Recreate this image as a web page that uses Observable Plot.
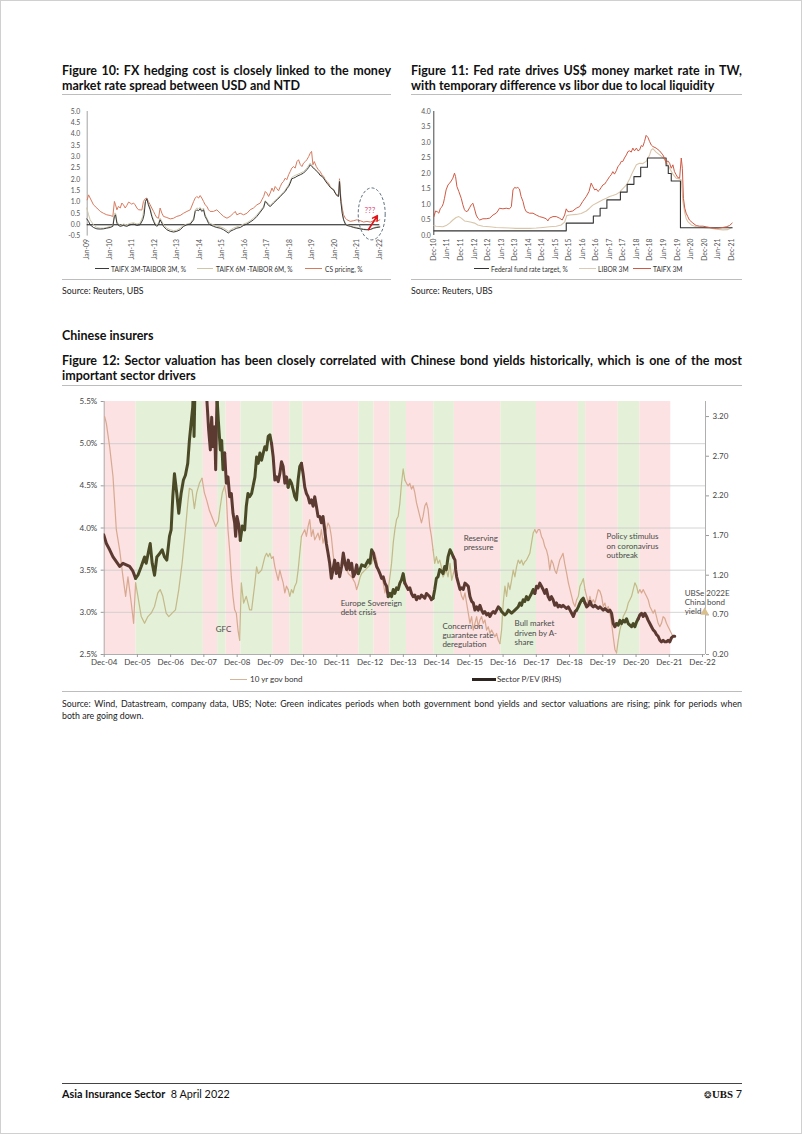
<!DOCTYPE html>
<html><head><meta charset="utf-8">
<script src="https://cdn.jsdelivr.net/npm/d3@7"></script>
<script src="https://cdn.jsdelivr.net/npm/@observablehq/plot@0.6"></script>
<style>
body{margin:0;background:#fff;}
#page{position:relative;width:800px;height:1132px;border:1px solid #d0d0d0;overflow:hidden;font-family:Lato,"Open Sans",sans-serif;color:#111;}
.a{position:absolute;}
.ttl{font-weight:700;font-size:12.5px;line-height:15px;white-space:nowrap;}
.src{font-size:8.8px;line-height:12px;color:#222;white-space:nowrap;}
.rule{position:absolute;height:0;border-top:1px solid #bdbdbd;}
.lg{position:absolute;font-size:6.6px;color:#333;white-space:nowrap;line-height:8px;}
.sw{position:absolute;height:0;}
.lg12{position:absolute;font-size:8px;color:#333;white-space:nowrap;line-height:10px;}
</style></head>
<body><div id="page">
<div class="a ttl fit j" data-g="t10" style="left:61px;top:62px;width:329px">Figure 10: FX hedging cost is closely linked to the money</div>
<div class="a ttl fit" data-g="t10" style="left:61px;top:77px;width:329px">market rate spread between USD and NTD</div>
<div class="rule" style="left:61px;top:93px;width:329px"></div>
<div class="a ttl fit j" data-g="t11" style="left:410px;top:62px;width:331px">Figure 11: Fed rate drives US$ money market rate in TW,</div>
<div class="a ttl fit" data-g="t11" style="left:410px;top:77px;width:331px">with temporary difference vs libor due to local liquidity</div>
<div class="rule" style="left:410px;top:93px;width:331px"></div>

<div id="c10" class="a" style="left:55px;top:100px"></div>
<div id="c11" class="a" style="left:405px;top:100px"></div>

<div class="sw" style="left:94px;top:267px;width:14px;border-top:1.2px solid #3a3a3a"></div>
<div class="lg" style="left:110px;top:264px">TAIFX 3M-TAIBOR 3M, %</div>
<div class="sw" style="left:196px;top:267px;width:16px;border-top:1.2px solid #cdc6a8"></div>
<div class="lg" style="left:215px;top:264px">TAIFX 6M -TAIBOR 6M, %</div>
<div class="sw" style="left:304px;top:267px;width:17px;border-top:1.2px solid #d77b5f"></div>
<div class="lg" style="left:324px;top:264px">CS pricing, %</div>

<div class="sw" style="left:473px;top:267px;width:15px;border-top:1.2px solid #333"></div>
<div class="lg" style="left:490px;top:264px">Federal fund rate target, %</div>
<div class="sw" style="left:578px;top:267px;width:17px;border-top:1.2px solid #dccbb4"></div>
<div class="lg" style="left:597px;top:264px">LIBOR 3M</div>
<div class="sw" style="left:632px;top:267px;width:18px;border-top:1.2px solid #cf5a45"></div>
<div class="lg" style="left:652px;top:264px">TAIFX 3M</div>

<div class="rule" style="left:61px;top:278px;width:329px"></div>
<div class="rule" style="left:410px;top:278px;width:331px"></div>
<div class="a src" style="left:61px;top:284px">Source: Reuters, UBS</div>
<div class="a src" style="left:410px;top:284px">Source: Reuters, UBS</div>

<div class="a ttl" style="left:61px;top:327px">Chinese insurers</div>
<div class="a ttl fit j" data-g="t12" style="left:61px;top:352px;width:680px">Figure 12: Sector valuation has been closely correlated with Chinese bond yields historically, which is one of the most</div>
<div class="a ttl fit" data-g="t12" style="left:61px;top:367px;width:680px">important sector drivers</div>
<div class="rule" style="left:61px;top:384px;width:680px"></div>

<div id="c12" class="a" style="left:55px;top:392px"></div>

<div class="sw" style="left:229px;top:678px;width:17px;border-top:1.3px solid #d6b49a"></div>
<div class="lg12" style="left:249px;top:673px">10 yr gov bond</div>
<div class="sw" style="left:471px;top:677px;width:24px;border-top:3px solid #2e2420"></div>
<div class="lg12" style="left:496px;top:673px">Sector P/EV (RHS)</div>
<div class="rule" style="left:61px;top:690px;width:680px"></div>
<div class="a src fit j" data-g="s12" style="left:61px;top:697px;width:680px">Source: Wind, Datastream, company data, UBS; Note: Green indicates periods when both government bond yields and sector valuations are rising; pink for periods when</div>
<div class="a src fit" data-g="s12" style="left:61px;top:709px;width:680px">both are going down.</div>

<div class="rule" style="left:61px;top:1082px;width:680px;border-top:1px solid #444"></div>
<div class="a" style="left:61px;top:1086px;font-size:10.8px;line-height:14px;white-space:nowrap"><b>Asia Insurance Sector</b>&nbsp; 8 April 2022</div>
<div class="a" style="left:700px;top:1086px;width:41px;text-align:right;font-size:10.8px;line-height:14px;white-space:nowrap"><span style="font-size:9px">&#10050;</span><span style="font-family:'Liberation Serif',serif;font-weight:700">UBS</span>&nbsp;7</div>
</div>
<script>
// ---------------- DATA ----------------
// Figure 10 (decimal year, %)
const fig10Spread3M = [[2008.98,0.26],[2009.06,0.15],[2009.13,0.0],[2009.28,-0.12],[2009.43,-0.18],[2009.58,-0.19],[2009.72,-0.18],[2009.87,-0.15],[2010.02,-0.12],[2010.14,-0.07],[2010.21,0.37],[2010.26,0.44],[2010.32,0.07],[2010.39,-0.03],[2010.47,-0.07],[2010.61,-0.03],[2010.76,-0.07],[2010.91,0.0],[2011.06,0.03],[2011.21,-0.03],[2011.35,0.0],[2011.47,0.22],[2011.53,0.44],[2011.59,1.03],[2011.65,1.15],[2011.72,0.88],[2011.80,0.66],[2011.87,0.37],[2011.95,0.15],[2012.02,0.0],[2012.09,-0.07],[2012.17,0.0],[2012.24,0.22],[2012.32,0.07],[2012.39,-0.07],[2012.54,-0.22],[2012.69,-0.29],[2012.84,-0.32],[2012.98,-0.29],[2013.13,-0.22],[2013.28,-0.07],[2013.43,0.0],[2013.58,0.03],[2013.73,0.22],[2013.80,0.59],[2013.87,0.66],[2013.95,0.62],[2014.02,0.71],[2014.09,0.59],[2014.17,0.66],[2014.24,0.37],[2014.32,0.22],[2014.39,0.07],[2014.46,0.0],[2014.61,-0.07],[2014.76,-0.12],[2014.91,-0.15],[2015.06,-0.22],[2015.21,-0.32],[2015.28,-0.37],[2015.35,-0.29],[2015.50,-0.22],[2015.65,-0.15],[2015.80,-0.12],[2015.95,-0.03],[2016.10,0.03],[2016.24,0.12],[2016.39,0.22],[2016.54,0.37],[2016.69,0.56],[2016.84,0.76],[2016.91,1.03],[2016.98,0.96],[2017.06,0.85],[2017.13,0.81],[2017.21,0.88],[2017.28,0.96],[2017.43,1.10],[2017.58,1.25],[2017.72,1.40],[2017.80,1.47],[2017.87,1.59],[2017.95,1.69],[2018.02,1.84],[2018.09,2.03],[2018.17,2.06],[2018.24,2.09],[2018.32,2.14],[2018.47,2.21],[2018.61,2.28],[2018.76,2.43],[2018.84,2.53],[2018.91,2.65],[2018.98,2.57],[2019.06,2.50],[2019.13,2.43],[2019.21,2.35],[2019.28,2.28],[2019.35,2.18],[2019.43,2.14],[2019.50,2.06],[2019.58,1.94],[2019.65,1.84],[2019.72,1.76],[2019.80,1.65],[2019.87,1.59],[2019.95,1.54],[2020.02,1.40],[2020.09,1.29],[2020.17,1.25],[2020.21,1.91],[2020.27,1.03],[2020.33,0.51],[2020.39,0.22],[2020.47,0.03],[2020.54,-0.03],[2020.69,-0.07],[2020.84,-0.12],[2020.98,-0.15],[2021.13,-0.18],[2021.28,-0.21],[2021.43,-0.22],[2021.58,-0.21],[2021.73,-0.15],[2021.87,-0.12],[2022.00,-0.10]];
const fig10Spread6M = [[2008.98,0.74],[2009.06,0.44],[2009.13,0.22],[2009.28,0.0],[2009.43,-0.12],[2009.58,-0.15],[2009.72,-0.15],[2009.87,-0.12],[2010.02,-0.07],[2010.14,-0.03],[2010.21,0.51],[2010.26,0.51],[2010.32,0.15],[2010.39,0.03],[2010.47,-0.03],[2010.61,0.03],[2010.76,0.0],[2010.91,0.06],[2011.06,0.09],[2011.21,0.03],[2011.35,0.07],[2011.47,0.37],[2011.53,0.74],[2011.59,1.06],[2011.65,1.10],[2011.72,0.96],[2011.80,0.74],[2011.87,0.44],[2011.95,0.22],[2012.02,0.07],[2012.09,0.0],[2012.17,0.07],[2012.24,0.29],[2012.32,0.15],[2012.39,0.0],[2012.54,-0.15],[2012.69,-0.22],[2012.84,-0.26],[2012.98,-0.24],[2013.13,-0.15],[2013.28,-0.03],[2013.43,0.03],[2013.58,0.07],[2013.73,0.29],[2013.80,0.66],[2013.87,0.74],[2013.95,0.71],[2014.02,0.76],[2014.09,0.66],[2014.17,0.74],[2014.24,0.44],[2014.32,0.29],[2014.39,0.15],[2014.46,0.06],[2014.61,0.0],[2014.76,-0.06],[2014.91,-0.09],[2015.06,-0.15],[2015.21,-0.24],[2015.28,-0.29],[2015.35,-0.24],[2015.50,-0.15],[2015.65,-0.09],[2015.80,-0.04],[2015.95,0.03],[2016.10,0.09],[2016.24,0.18],[2016.39,0.29],[2016.54,0.44],[2016.69,0.62],[2016.84,0.82],[2016.91,1.06],[2016.98,1.00],[2017.06,0.91],[2017.13,0.85],[2017.21,0.94],[2017.28,1.00],[2017.43,1.15],[2017.58,1.29],[2017.72,1.44],[2017.80,1.53],[2017.87,1.65],[2017.95,1.76],[2018.02,1.91],[2018.09,2.09],[2018.17,2.14],[2018.24,2.18],[2018.32,2.21],[2018.47,2.28],[2018.61,2.35],[2018.76,2.50],[2018.84,2.62],[2018.91,2.72],[2018.98,2.62],[2019.06,2.53],[2019.13,2.46],[2019.21,2.38],[2019.28,2.31],[2019.35,2.21],[2019.43,2.16],[2019.50,2.09],[2019.58,1.97],[2019.65,1.87],[2019.72,1.79],[2019.80,1.68],[2019.87,1.62],[2019.95,1.57],[2020.02,1.43],[2020.09,1.32],[2020.17,1.28],[2020.21,1.97],[2020.27,1.09],[2020.33,0.59],[2020.39,0.26],[2020.47,0.07],[2020.54,0.0],[2020.69,-0.04],[2020.84,-0.09],[2020.98,-0.12],[2021.13,-0.15],[2021.28,-0.18],[2021.43,-0.21],[2021.58,-0.19],[2021.73,-0.13],[2021.87,-0.09],[2022.00,-0.06]];
const fig10CSPricing = [[2009.00,1.10],[2009.06,1.32],[2009.13,1.18],[2009.28,0.88],[2009.43,0.74],[2009.58,0.59],[2009.72,0.51],[2009.87,0.44],[2010.02,0.41],[2010.14,0.37],[2010.21,1.03],[2010.26,0.88],[2010.32,0.66],[2010.39,0.81],[2010.47,0.74],[2010.54,0.96],[2010.61,0.88],[2010.69,0.74],[2010.76,0.85],[2010.84,1.00],[2010.91,0.96],[2010.98,0.91],[2011.06,0.96],[2011.13,0.88],[2011.21,0.74],[2011.28,0.66],[2011.35,0.66],[2011.43,0.65],[2011.50,1.03],[2011.58,1.15],[2011.65,1.18],[2011.72,1.03],[2011.80,0.88],[2011.87,0.74],[2011.95,0.59],[2012.02,0.44],[2012.09,0.32],[2012.17,0.29],[2012.24,0.74],[2012.32,0.51],[2012.39,0.37],[2012.54,0.32],[2012.69,0.26],[2012.84,0.29],[2012.98,0.37],[2013.13,0.41],[2013.28,0.51],[2013.43,0.59],[2013.58,0.66],[2013.73,1.03],[2013.80,1.18],[2013.87,1.25],[2013.95,1.18],[2014.02,1.29],[2014.09,1.18],[2014.17,1.03],[2014.24,0.88],[2014.32,0.81],[2014.39,0.66],[2014.46,0.59],[2014.61,0.59],[2014.76,0.66],[2014.91,0.51],[2015.06,0.37],[2015.21,0.29],[2015.35,0.37],[2015.50,0.51],[2015.58,0.59],[2015.65,0.44],[2015.80,0.51],[2015.95,0.44],[2016.10,0.51],[2016.24,0.66],[2016.39,0.74],[2016.54,0.88],[2016.69,0.96],[2016.76,1.10],[2016.84,1.25],[2016.91,1.47],[2016.98,1.40],[2017.06,1.25],[2017.13,1.40],[2017.21,1.62],[2017.28,1.47],[2017.35,1.69],[2017.43,1.59],[2017.50,1.50],[2017.58,1.69],[2017.65,1.84],[2017.72,1.91],[2017.80,2.06],[2017.87,1.99],[2017.95,2.21],[2018.02,2.35],[2018.09,2.50],[2018.17,2.57],[2018.24,2.50],[2018.32,2.79],[2018.39,2.87],[2018.47,2.65],[2018.54,2.57],[2018.61,2.72],[2018.69,2.79],[2018.76,2.87],[2018.84,3.01],[2018.91,3.16],[2018.97,3.24],[2019.03,2.65],[2019.09,2.79],[2019.18,2.57],[2019.27,2.43],[2019.35,2.35],[2019.43,2.21],[2019.50,2.14],[2019.58,1.99],[2019.65,1.91],[2019.72,1.84],[2019.80,1.69],[2019.87,1.62],[2019.95,1.54],[2020.02,1.40],[2020.09,1.32],[2020.17,1.32],[2020.21,2.03],[2020.27,1.18],[2020.33,0.74],[2020.39,0.44],[2020.47,0.29],[2020.54,0.22],[2020.69,0.15],[2020.84,0.18],[2020.98,0.22],[2021.13,0.18],[2021.28,0.12],[2021.43,0.15],[2021.58,0.12],[2021.73,0.18],[2021.87,0.15],[2022.00,0.22]];
const fig10YTicks = [-0.5,0,0.5,1,1.5,2,2.5,3,3.5,4,4.5,5];
const fig10XLabels = ["Jan-09","Jan-10","Jan-11","Jan-12","Jan-13","Jan-14","Jan-15","Jan-16","Jan-17","Jan-18","Jan-19","Jan-20","Jan-21","Jan-22"];
const fig10Ring = [[2021.64,0.48]];
const fig10Note = [[2021.56,0.62,"???"]];
const fig10Arrow = [[2021.49,-0.22,2021.89,0.40]];

// Figure 11
const fig11Fed = [[2010.92,0.15],[2015.81,0.40],[2016.81,0.63],[2017.06,0.88],[2017.31,1.15],[2017.81,1.40],[2018.06,1.65],[2018.31,1.90],[2018.56,2.20],[2018.81,2.50],[2019.50,2.25],[2019.58,2.00],[2019.69,1.76],[2020.03,0.25],[2021.94,0.25]];
const fig11Libor = [[2010.92,0.32],[2011.00,0.30],[2011.13,0.29],[2011.25,0.28],[2011.37,0.32],[2011.50,0.40],[2011.62,0.50],[2011.74,0.58],[2011.84,0.61],[2011.93,0.56],[2012.05,0.47],[2012.17,0.45],[2012.30,0.43],[2012.42,0.40],[2012.54,0.34],[2012.73,0.30],[2012.98,0.28],[2013.22,0.26],[2013.47,0.25],[2013.71,0.24],[2013.96,0.23],[2014.21,0.23],[2014.45,0.23],[2014.70,0.24],[2014.95,0.26],[2015.19,0.28],[2015.44,0.30],[2015.62,0.34],[2015.75,0.43],[2015.83,0.64],[2015.93,0.66],[2016.18,0.68],[2016.36,0.71],[2016.55,0.79],[2016.67,0.88],[2016.79,0.98],[2016.92,1.04],[2017.04,1.10],[2017.16,1.15],[2017.29,1.20],[2017.41,1.26],[2017.53,1.29],[2017.66,1.33],[2017.78,1.40],[2017.90,1.51],[2018.03,1.63],[2018.15,1.82],[2018.27,2.06],[2018.40,2.28],[2018.52,2.33],[2018.64,2.32],[2018.76,2.39],[2018.89,2.60],[2018.95,2.76],[2019.01,2.80],[2019.13,2.69],[2019.26,2.60],[2019.38,2.52],[2019.50,2.39],[2019.63,2.17],[2019.75,1.98],[2019.87,1.85],[2020.00,1.82],[2020.06,1.79],[2020.12,1.10],[2020.18,0.77],[2020.24,0.55],[2020.30,0.45],[2020.43,0.34],[2020.61,0.28],[2020.86,0.26],[2021.10,0.24],[2021.35,0.20],[2021.60,0.18],[2021.78,0.19],[2021.92,0.26]];
const fig11Taifx = [[2010.92,0.61],[2010.98,0.79],[2011.04,0.77],[2011.10,0.72],[2011.16,0.88],[2011.22,0.93],[2011.27,1.04],[2011.31,1.20],[2011.37,1.47],[2011.44,1.63],[2011.50,1.69],[2011.56,1.76],[2011.62,1.85],[2011.68,2.01],[2011.72,1.90],[2011.77,1.58],[2011.84,1.42],[2011.93,1.20],[2011.99,0.99],[2012.05,0.83],[2012.11,0.77],[2012.17,0.79],[2012.24,0.90],[2012.30,0.99],[2012.36,1.04],[2012.42,0.86],[2012.48,0.66],[2012.54,0.56],[2012.61,0.50],[2012.73,0.54],[2012.85,0.54],[2012.98,0.56],[2013.10,0.66],[2013.22,0.72],[2013.28,0.79],[2013.34,0.88],[2013.47,0.86],[2013.59,0.88],[2013.71,0.86],[2013.78,0.93],[2013.84,1.47],[2013.90,1.55],[2013.96,1.53],[2014.02,1.55],[2014.08,1.50],[2014.14,1.26],[2014.21,1.10],[2014.27,0.88],[2014.33,0.77],[2014.45,0.72],[2014.58,0.72],[2014.70,0.66],[2014.82,0.61],[2014.95,0.58],[2015.07,0.54],[2015.13,0.47],[2015.19,0.56],[2015.32,0.61],[2015.44,0.61],[2015.56,0.56],[2015.66,0.50],[2015.75,0.66],[2015.81,0.86],[2015.87,0.77],[2015.93,0.77],[2016.05,0.79],[2016.18,0.88],[2016.30,0.93],[2016.42,1.10],[2016.55,1.26],[2016.65,1.42],[2016.73,1.69],[2016.79,1.58],[2016.86,1.47],[2016.92,1.50],[2016.98,1.42],[2017.04,1.47],[2017.10,1.55],[2017.16,1.63],[2017.23,1.66],[2017.29,1.74],[2017.35,1.82],[2017.41,1.90],[2017.47,1.96],[2017.53,2.06],[2017.59,1.98],[2017.66,2.09],[2017.72,2.23],[2017.78,2.28],[2017.84,2.39],[2017.90,2.39],[2017.96,2.50],[2018.03,2.60],[2018.09,2.71],[2018.15,2.73],[2018.21,2.69],[2018.27,2.82],[2018.33,2.73],[2018.40,2.82],[2018.46,2.73],[2018.52,2.76],[2018.58,2.90],[2018.64,2.87],[2018.70,3.03],[2018.76,3.23],[2018.83,3.16],[2018.89,3.03],[2018.95,2.92],[2019.01,2.87],[2019.13,2.82],[2019.26,2.73],[2019.38,2.60],[2019.44,2.50],[2019.50,2.33],[2019.56,2.41],[2019.63,2.33],[2019.69,2.17],[2019.75,2.28],[2019.81,2.06],[2019.87,1.96],[2019.93,1.87],[2020.00,1.85],[2020.06,2.50],[2020.10,2.17],[2020.14,1.20],[2020.19,0.88],[2020.24,0.72],[2020.30,0.61],[2020.36,0.50],[2020.49,0.40],[2020.61,0.32],[2020.74,0.30],[2020.86,0.30],[2020.98,0.28],[2021.10,0.26],[2021.23,0.24],[2021.35,0.23],[2021.47,0.24],[2021.60,0.26],[2021.72,0.28],[2021.84,0.32],[2021.94,0.40]];
const fig11YTicks = [0,0.5,1,1.5,2,2.5,3,3.5,4];
const fig11XLabels = ["Dec-10","Jun-11","Dec-11","Jun-12","Dec-12","Jun-13","Dec-13","Jun-14","Dec-14","Jun-15","Dec-15","Jun-16","Dec-16","Jun-17","Dec-17","Jun-18","Dec-18","Jun-19","Dec-19","Jun-20","Dec-20","Jun-21","Dec-21"];

// Figure 12 (10yr bond in %, sector P/EV in x)
const fig12Bond = [[2004.93,5.32],[2004.98,5.24],[2005.08,4.96],[2005.18,4.61],[2005.28,3.98],[2005.38,3.74],[2005.48,3.42],[2005.56,3.19],[2005.63,3.42],[2005.73,3.11],[2005.80,2.87],[2005.86,3.35],[2005.93,3.19],[2006.03,2.95],[2006.13,2.87],[2006.23,2.95],[2006.33,2.99],[2006.43,3.07],[2006.53,3.23],[2006.60,3.27],[2006.68,3.19],[2006.78,2.99],[2006.86,2.95],[2006.96,2.99],[2007.06,3.03],[2007.16,3.27],[2007.26,3.58],[2007.36,3.98],[2007.43,4.29],[2007.48,4.47],[2007.56,4.45],[2007.63,4.23],[2007.70,4.42],[2007.78,4.53],[2007.86,4.59],[2007.93,4.42],[2008.00,4.33],[2008.08,4.21],[2008.19,4.10],[2008.27,4.02],[2008.35,4.08],[2008.41,4.26],[2008.47,4.42],[2008.54,4.50],[2008.59,4.38],[2008.64,3.98],[2008.69,3.74],[2008.74,3.42],[2008.79,3.19],[2008.84,3.03],[2008.89,2.99],[2008.94,2.79],[2008.99,2.67],[2009.04,3.35],[2009.11,3.11],[2009.19,3.19],[2009.29,3.03],[2009.35,3.03],[2009.40,3.19],[2009.45,3.35],[2009.50,3.54],[2009.55,3.46],[2009.65,3.50],[2009.75,3.66],[2009.80,3.70],[2009.85,3.66],[2009.90,3.70],[2009.95,3.64],[2010.00,3.66],[2010.05,3.54],[2010.10,3.46],[2010.15,3.38],[2010.20,3.50],[2010.25,3.42],[2010.30,3.35],[2010.35,3.23],[2010.40,3.31],[2010.45,3.27],[2010.50,3.19],[2010.55,3.27],[2010.60,3.23],[2010.65,3.31],[2010.70,3.35],[2010.75,3.50],[2010.80,3.70],[2010.85,3.90],[2010.90,3.94],[2010.95,3.98],[2011.00,3.90],[2011.05,4.02],[2011.10,4.10],[2011.15,3.90],[2011.20,3.98],[2011.25,3.86],[2011.30,3.90],[2011.35,3.94],[2011.40,3.86],[2011.45,3.98],[2011.50,3.82],[2011.55,3.90],[2011.60,3.98],[2011.65,4.06],[2011.70,4.02],[2011.75,3.90],[2011.80,3.70],[2011.85,3.54],[2011.90,3.58],[2011.95,3.50],[2012.06,3.54],[2012.16,3.58],[2012.26,3.46],[2012.36,3.42],[2012.46,3.35],[2012.51,3.27],[2012.56,3.33],[2012.61,3.41],[2012.66,3.46],[2012.76,3.50],[2012.86,3.54],[2012.96,3.58],[2013.01,3.66],[2013.06,3.70],[2013.11,3.62],[2013.16,3.50],[2013.21,3.46],[2013.26,3.42],[2013.31,3.35],[2013.36,3.23],[2013.41,3.31],[2013.46,3.27],[2013.51,3.42],[2013.56,3.58],[2013.61,3.82],[2013.66,3.98],[2013.71,4.10],[2013.76,4.14],[2013.81,4.29],[2013.86,4.53],[2013.91,4.70],[2013.96,4.57],[2014.01,4.53],[2014.06,4.50],[2014.11,4.53],[2014.16,4.46],[2014.21,4.50],[2014.26,4.42],[2014.31,4.30],[2014.36,4.22],[2014.41,4.14],[2014.46,4.06],[2014.51,4.14],[2014.56,4.26],[2014.61,4.30],[2014.66,4.22],[2014.71,4.02],[2014.76,3.90],[2014.81,3.74],[2014.86,3.58],[2014.91,3.66],[2014.96,3.58],[2015.01,3.62],[2015.06,3.54],[2015.11,3.42],[2015.16,3.46],[2015.21,3.50],[2015.26,3.42],[2015.32,3.58],[2015.37,3.38],[2015.42,3.46],[2015.47,3.54],[2015.52,3.46],[2015.57,3.35],[2015.62,3.27],[2015.67,3.19],[2015.72,3.15],[2015.77,3.23],[2015.82,3.11],[2015.87,2.99],[2015.92,2.87],[2015.97,2.95],[2016.02,2.79],[2016.07,2.87],[2016.12,2.95],[2016.17,2.83],[2016.22,2.91],[2016.27,2.95],[2016.32,2.87],[2016.37,2.91],[2016.42,2.79],[2016.47,2.83],[2016.52,2.75],[2016.57,2.79],[2016.67,2.71],[2016.72,2.75],[2016.77,2.67],[2016.82,2.63],[2016.87,2.79],[2016.92,3.11],[2016.97,3.31],[2017.02,3.19],[2017.07,3.35],[2017.12,3.27],[2017.17,3.38],[2017.22,3.50],[2017.27,3.42],[2017.32,3.54],[2017.37,3.62],[2017.42,3.58],[2017.47,3.62],[2017.52,3.56],[2017.57,3.60],[2017.62,3.62],[2017.67,3.66],[2017.72,3.70],[2017.77,3.82],[2017.82,3.94],[2017.87,3.98],[2017.92,3.94],[2017.97,3.98],[2018.02,3.98],[2018.07,3.90],[2018.12,3.86],[2018.17,3.78],[2018.22,3.74],[2018.27,3.66],[2018.32,3.50],[2018.37,3.62],[2018.42,3.58],[2018.47,3.50],[2018.52,3.46],[2018.57,3.54],[2018.62,3.62],[2018.67,3.66],[2018.72,3.70],[2018.77,3.58],[2018.83,3.46],[2018.88,3.35],[2018.93,3.27],[2018.98,3.19],[2019.03,3.11],[2019.08,3.07],[2019.13,3.15],[2019.18,3.19],[2019.23,3.31],[2019.28,3.35],[2019.33,3.40],[2019.38,3.27],[2019.43,3.19],[2019.48,3.11],[2019.53,3.19],[2019.58,3.11],[2019.63,3.15],[2019.68,3.11],[2019.73,3.19],[2019.78,3.27],[2019.83,3.25],[2019.88,3.19],[2019.93,3.07],[2019.98,3.11],[2020.03,3.03],[2020.08,3.07],[2020.13,2.99],[2020.18,2.87],[2020.23,2.71],[2020.28,2.56],[2020.33,2.52],[2020.38,2.67],[2020.43,2.79],[2020.48,2.87],[2020.53,2.95],[2020.58,2.99],[2020.63,3.03],[2020.68,3.11],[2020.73,3.15],[2020.78,3.19],[2020.83,3.27],[2020.88,3.35],[2020.93,3.31],[2020.98,3.23],[2021.03,3.27],[2021.08,3.23],[2021.13,3.27],[2021.18,3.23],[2021.23,3.19],[2021.28,3.15],[2021.33,3.07],[2021.38,3.03],[2021.43,2.99],[2021.48,3.03],[2021.53,2.95],[2021.58,2.87],[2021.63,2.83],[2021.68,2.87],[2021.73,2.95],[2021.78,2.93],[2021.83,2.87],[2021.88,2.83],[2021.93,2.79],[2021.98,2.75],[2022.03,2.71]];
const fig12PEV = [[2004.90,1.71],[2004.98,1.60],[2005.08,1.52],[2005.18,1.43],[2005.28,1.37],[2005.38,1.31],[2005.48,1.35],[2005.58,1.33],[2005.68,1.31],[2005.78,1.25],[2005.86,1.16],[2005.93,1.20],[2006.03,1.31],[2006.13,1.43],[2006.18,1.35],[2006.26,1.52],[2006.30,1.60],[2006.36,1.35],[2006.43,1.20],[2006.50,1.43],[2006.58,1.47],[2006.66,1.52],[2006.73,1.43],[2006.80,1.39],[2006.88,1.69],[2006.93,1.77],[2006.98,2.19],[2007.03,2.48],[2007.10,2.23],[2007.16,1.98],[2007.23,2.23],[2007.30,2.40],[2007.36,2.46],[2007.43,2.61],[2007.48,2.90],[2007.53,3.11],[2007.58,3.32],[2007.60,3.55],[2007.62,2.95],[2007.65,3.60],[2007.72,3.90],[2007.80,4.20],[2007.88,3.95],[2007.95,3.70],[2008.00,3.45],[2008.06,3.03],[2008.11,2.78],[2008.15,3.19],[2008.19,2.82],[2008.24,3.07],[2008.27,2.53],[2008.31,3.45],[2008.35,3.15],[2008.41,2.78],[2008.45,2.90],[2008.49,2.53],[2008.54,2.74],[2008.59,2.36],[2008.64,2.44],[2008.69,2.19],[2008.74,2.23],[2008.79,1.98],[2008.84,1.86],[2008.87,1.69],[2008.91,1.94],[2008.97,1.82],[2009.01,1.64],[2009.07,1.82],[2009.14,1.77],[2009.19,2.07],[2009.24,2.23],[2009.29,2.19],[2009.35,2.23],[2009.45,2.44],[2009.50,2.69],[2009.55,2.61],[2009.60,2.74],[2009.65,2.65],[2009.70,2.74],[2009.75,2.82],[2009.80,2.78],[2009.85,2.95],[2009.90,2.97],[2009.95,2.86],[2010.00,2.69],[2010.05,2.40],[2010.10,2.44],[2010.15,2.38],[2010.20,2.48],[2010.25,2.63],[2010.30,2.57],[2010.35,2.36],[2010.40,2.44],[2010.45,2.31],[2010.50,2.40],[2010.55,2.36],[2010.60,2.28],[2010.65,2.19],[2010.70,2.15],[2010.75,2.40],[2010.80,2.57],[2010.85,2.61],[2010.90,2.48],[2010.95,2.31],[2011.00,2.23],[2011.05,2.19],[2011.10,2.11],[2011.15,2.15],[2011.20,2.07],[2011.25,2.19],[2011.30,2.07],[2011.35,1.94],[2011.40,1.94],[2011.45,1.86],[2011.50,1.94],[2011.55,1.77],[2011.60,1.60],[2011.65,1.48],[2011.70,1.35],[2011.75,1.16],[2011.80,1.27],[2011.85,1.39],[2011.90,1.22],[2011.95,1.35],[2012.00,1.18],[2012.06,1.31],[2012.11,1.48],[2012.16,1.35],[2012.21,1.27],[2012.26,1.39],[2012.31,1.27],[2012.36,1.35],[2012.41,1.18],[2012.46,1.22],[2012.51,1.33],[2012.56,1.22],[2012.61,1.27],[2012.66,1.33],[2012.76,1.31],[2012.81,1.35],[2012.86,1.39],[2012.91,1.35],[2012.96,1.52],[2013.01,1.48],[2013.06,1.39],[2013.11,1.31],[2013.16,1.27],[2013.21,1.22],[2013.26,1.16],[2013.31,1.18],[2013.36,1.10],[2013.41,1.06],[2013.46,0.93],[2013.51,0.97],[2013.56,0.93],[2013.61,1.02],[2013.66,0.97],[2013.71,1.04],[2013.76,1.02],[2013.81,1.10],[2013.86,1.14],[2013.91,1.22],[2013.96,1.10],[2014.01,1.06],[2014.06,1.02],[2014.11,1.04],[2014.16,0.97],[2014.21,0.93],[2014.26,0.95],[2014.31,0.89],[2014.36,0.93],[2014.41,0.91],[2014.46,0.95],[2014.51,0.93],[2014.56,0.91],[2014.61,0.97],[2014.66,0.95],[2014.71,0.93],[2014.76,0.89],[2014.81,0.91],[2014.86,1.02],[2014.91,1.16],[2014.96,1.18],[2015.01,1.27],[2015.06,1.25],[2015.11,1.22],[2015.16,1.31],[2015.21,1.27],[2015.26,1.43],[2015.32,1.52],[2015.37,1.48],[2015.42,1.43],[2015.47,1.39],[2015.49,1.27],[2015.52,1.18],[2015.57,1.10],[2015.62,1.02],[2015.67,1.04],[2015.72,1.02],[2015.77,1.10],[2015.82,1.08],[2015.87,1.06],[2015.92,0.93],[2015.97,0.87],[2016.02,0.85],[2016.07,0.76],[2016.12,0.80],[2016.17,0.76],[2016.22,0.82],[2016.27,0.76],[2016.32,0.72],[2016.37,0.74],[2016.42,0.70],[2016.47,0.72],[2016.52,0.68],[2016.57,0.72],[2016.62,0.74],[2016.67,0.72],[2016.72,0.76],[2016.77,0.80],[2016.82,0.78],[2016.87,0.74],[2016.92,0.72],[2016.97,0.70],[2017.02,0.72],[2017.07,0.76],[2017.12,0.74],[2017.17,0.72],[2017.27,0.76],[2017.37,0.80],[2017.42,0.85],[2017.47,0.82],[2017.52,0.89],[2017.57,0.87],[2017.62,0.93],[2017.67,0.89],[2017.72,0.93],[2017.77,0.97],[2017.82,1.02],[2017.87,0.97],[2017.92,1.06],[2017.97,1.04],[2018.02,1.10],[2018.07,1.06],[2018.12,1.02],[2018.17,0.97],[2018.22,1.02],[2018.27,0.93],[2018.32,0.89],[2018.37,0.93],[2018.42,0.89],[2018.47,0.82],[2018.52,0.85],[2018.57,0.80],[2018.62,0.82],[2018.67,0.80],[2018.72,0.82],[2018.77,0.80],[2018.83,0.78],[2018.88,0.80],[2018.93,0.76],[2018.98,0.72],[2019.03,0.68],[2019.08,0.74],[2019.13,0.76],[2019.18,0.80],[2019.23,0.85],[2019.28,0.89],[2019.33,0.91],[2019.38,0.85],[2019.43,0.80],[2019.48,0.82],[2019.53,0.87],[2019.58,0.82],[2019.63,0.80],[2019.68,0.82],[2019.73,0.80],[2019.78,0.78],[2019.83,0.80],[2019.88,0.78],[2019.93,0.76],[2019.98,0.78],[2020.03,0.76],[2020.08,0.74],[2020.13,0.76],[2020.18,0.72],[2020.23,0.59],[2020.28,0.55],[2020.33,0.59],[2020.38,0.57],[2020.43,0.63],[2020.48,0.59],[2020.53,0.63],[2020.58,0.61],[2020.63,0.65],[2020.68,0.59],[2020.73,0.57],[2020.78,0.55],[2020.83,0.59],[2020.88,0.55],[2020.93,0.61],[2020.98,0.65],[2021.03,0.70],[2021.08,0.72],[2021.13,0.68],[2021.18,0.72],[2021.23,0.68],[2021.28,0.63],[2021.33,0.59],[2021.38,0.55],[2021.43,0.51],[2021.48,0.49],[2021.53,0.45],[2021.58,0.43],[2021.63,0.38],[2021.68,0.36],[2021.73,0.38],[2021.78,0.36],[2021.83,0.36],[2021.88,0.38],[2021.93,0.36],[2021.98,0.41],[2022.03,0.43],[2022.08,0.43]];
// periods: "up" = both rising (green), "down" = both falling (pink)
const fig12Phases = [[2004.92,2005.87,"down"],[2005.87,2007.90,"up"],[2007.90,2008.33,"down"],[2008.33,2008.58,"up"],[2008.58,2009.03,"down"],[2009.03,2010.00,"up"],[2010.00,2010.50,"down"],[2010.50,2010.90,"up"],[2010.90,2012.58,"down"],[2012.58,2013.03,"up"],[2013.03,2013.51,"down"],[2013.51,2014.01,"up"],[2014.01,2014.83,"down"],[2014.83,2015.45,"up"],[2015.45,2016.85,"down"],[2016.85,2017.92,"up"],[2017.92,2019.18,"down"],[2019.18,2019.40,"up"],[2019.40,2020.38,"down"],[2020.38,2021.03,"up"],[2021.03,2021.96,"down"]];
const fig12LeftTicks = [2.5,3.0,3.5,4.0,4.5,5.0,5.5];
const fig12RightTicks = [0.20,0.70,1.20,1.70,2.20,2.70,3.20];
const fig12XLabels = ["Dec-04","Dec-05","Dec-06","Dec-07","Dec-08","Dec-09","Dec-10","Dec-11","Dec-12","Dec-13","Dec-14","Dec-15","Dec-16","Dec-17","Dec-18","Dec-19","Dec-20","Dec-21","Dec-22"];
const fig12Notes = [[2008.27,2.80,"GFC"],[2012.03,3.06,"Europe Sovereign\ndebt crisis"],[2015.73,3.83,"Reserving\npressure"],[2015.09,2.73,"Concern on\nguarantee rate\nderegulation"],[2017.26,2.76,"Bull market\ndriven by A-\nshare"],[2020.03,3.79,"Policy stimulus\non coronavirus\noutbreak"],[2022.38,3.12,"UBSe 2022E\nChina bond\nyield"]];
const fig12Forecast = [[2022.98,3.0]];

// ---------------- HELPERS ----------------
const yrDate = t => { const y = Math.floor(t), s = Date.UTC(y,0,1), e = Date.UTC(y+1,0,1); return new Date(s + (t - y) * (e - s)); };
const rows = arr => arr.map(([t, v]) => ({t, date: yrDate(t), v}));
const parseLbl = d3.utcParse("%b-%y");
const fmtLbl = d3.utcFormat("%b-%y");
const font = "Lato, 'Open Sans', sans-serif";

// ---------------- FIGURE 10 ----------------
const ellipse = {draw(ctx) { const rx = 13.5, ry = 26, k = 0.5523;
  ctx.moveTo(rx, 0); ctx.bezierCurveTo(rx, ry*k, rx*k, ry, 0, ry); ctx.bezierCurveTo(-rx*k, ry, -rx, ry*k, -rx, 0);
  ctx.bezierCurveTo(-rx, -ry*k, -rx*k, -ry, 0, -ry); ctx.bezierCurveTo(rx*k, -ry, rx, -ry*k, rx, 0); ctx.closePath(); }};
const x10 = [parseLbl(fig10XLabels[0]), parseLbl(fig10XLabels[fig10XLabels.length-1])];
const c10 = Plot.plot({
  width: 335, height: 170, marginLeft: 30.7, marginRight: 11.7, marginTop: 10, marginBottom: 35.4,
  style: {fontFamily: font, fontSize: "6.8px", color: "#555", background: "transparent", overflow: "visible"},
  x: {type: "utc", domain: x10, label: null},
  y: {domain: [fig10YTicks[0], fig10YTicks[fig10YTicks.length-1]], label: null},
  marks: [
    Plot.ruleX([x10[0]], {stroke: "#8a8a8a", strokeWidth: 0.8}),
    Plot.axisY(fig10YTicks, {tickSize: 0, tickPadding: 7, tickFormat: d => d.toFixed(1)}),
    Plot.axisX(fig10XLabels.map(parseLbl), {tickSize: 0, tickPadding: 3, tickRotate: -90, tickFormat: fmtLbl}),
    Plot.ruleY([0], {stroke: "#111", strokeWidth: 1}),
    Plot.line(rows(fig10CSPricing), {x: "date", y: "v", stroke: "#d77b5f", strokeWidth: 1}),
    Plot.line(rows(fig10Spread6M), {x: "date", y: "v", stroke: "#cdc6a8", strokeWidth: 1}),
    Plot.line(rows(fig10Spread3M), {x: "date", y: "v", stroke: "#3a3a3a", strokeWidth: 1}),
    Plot.dot(fig10Ring, {x: d => yrDate(d[0]), y: d => d[1], symbol: ellipse, r: 1, fill: "none", stroke: "#5f7382", strokeWidth: 1, strokeDasharray: "3,2"}),
    Plot.text(fig10Note, {x: d => yrDate(d[0]), y: d => d[1], text: d => d[2], fill: "#e04a78", fontSize: 8}),
    Plot.arrow(fig10Arrow, {x1: d => yrDate(d[0]), y1: d => d[1], x2: d => yrDate(d[2]), y2: d => d[3], stroke: "#e0141a", strokeWidth: 1.6, headLength: 5})
  ]
});
document.getElementById("c10").appendChild(c10);

// ---------------- FIGURE 11 ----------------
const x11 = [parseLbl(fig11XLabels[0]), parseLbl(fig11XLabels[fig11XLabels.length-1])];
const c11 = Plot.plot({
  width: 340, height: 170, marginLeft: 27.3, marginRight: 15, marginTop: 10, marginBottom: 36,
  style: {fontFamily: font, fontSize: "6.8px", color: "#555", background: "transparent", overflow: "visible"},
  x: {type: "utc", domain: x11, label: null},
  y: {domain: [fig11YTicks[0], fig11YTicks[fig11YTicks.length-1]], label: null},
  marks: [
    Plot.ruleX([x11[0]], {stroke: "#333", strokeWidth: 0.9}),
    Plot.axisY(fig11YTicks, {tickSize: 0, tickPadding: 3, tickFormat: d => d.toFixed(1)}),
    Plot.axisX(fig11XLabels.map(parseLbl), {tickSize: 0, tickPadding: 3, tickRotate: -90, tickFormat: fmtLbl}),
    Plot.line(rows(fig11Libor), {x: "date", y: "v", stroke: "#d9c6aa", strokeWidth: 1.1}),
    Plot.line(rows(fig11Fed), {x: "date", y: "v", stroke: "#333", strokeWidth: 1.1, curve: "step-after"}),
    Plot.line(rows(fig11Taifx), {x: "date", y: "v", stroke: "#cf5a45", strokeWidth: 1})
  ]
});
document.getElementById("c11").appendChild(c11);

// ---------------- FIGURE 12 ----------------
const bondRange = [fig12LeftTicks[0], fig12LeftTicks[fig12LeftTicks.length-1]];
const pevRange = [0.20, 3.39];
const toLeft = v => bondRange[0] + (v - pevRange[0]) * (bondRange[1] - bondRange[0]) / (pevRange[1] - pevRange[0]);
const fromLeft = y => pevRange[0] + (y - bondRange[0]) * (pevRange[1] - pevRange[0]) / (bondRange[1] - bondRange[0]);
function colourRuns(series) {
  return fig12Phases.flatMap(([s, e, kind], i) => {
    const last = i === fig12Phases.length - 1, idx = [];
    series.forEach((r, j) => { if ((i === 0 || r.t >= s) && (last || r.t < e)) idx.push(j); });
    if (!idx.length) return [];
    if (idx[0] > 0) idx.unshift(idx[0] - 1);
    return idx.map(j => ({...series[j], run: i, kind}));
  });
}
const bondRuns = colourRuns(rows(fig12Bond));
const pevRuns = colourRuns(rows(fig12PEV).map(d => ({...d, v: toLeft(d.v)})));
const x12 = [parseLbl(fig12XLabels[0]), new Date(Date.UTC(2023, 0, 3))];
const c12 = Plot.plot({
  width: 690, height: 280, marginLeft: 47.7, marginRight: 41, marginTop: 8, marginBottom: 19,
  style: {fontFamily: font, fontSize: "8px", color: "#444", background: "transparent", overflow: "visible"},
  x: {type: "utc", domain: x12, label: null},
  y: {domain: bondRange, label: null},
  color: {type: "identity"},
  marks: [
    Plot.rect(fig12Phases, {x1: d => yrDate(d[0]), x2: d => yrDate(d[1]), y1: bondRange[0], y2: bondRange[1], fill: d => d[2] === "up" ? "#e4f0d8" : "#fce2e2"}),
    Plot.gridY(fig12LeftTicks.slice(1, -1), {stroke: "#c9c9c9", strokeOpacity: 1, strokeWidth: 0.8}),
    Plot.ruleX([x12[0]], {stroke: "#9a9a9a", strokeWidth: 0.8}),
    Plot.ruleX([x12[1]], {stroke: "#9a9a9a", strokeWidth: 0.8}),
    Plot.ruleY([bondRange[0]], {stroke: "#9a9a9a", strokeWidth: 0.8}),
    Plot.axisY(fig12LeftTicks, {tickSize: 3, tickPadding: 4, stroke: "#9a9a9a", tickFormat: d => d.toFixed(1) + "%"}),
    Plot.axisY(fig12RightTicks.map(toLeft), {anchor: "right", tickSize: 3, tickPadding: 4, stroke: "#9a9a9a", tickFormat: d => fromLeft(d).toFixed(2)}),
    Plot.axisX(fig12XLabels.map(parseLbl), {tickSize: 3, tickPadding: 2, stroke: "#9a9a9a", tickFormat: fmtLbl}),
    Plot.line(bondRuns, {x: "date", y: "v", z: "run", stroke: d => d.kind === "up" ? "#c4b988" : "#d8a990", strokeWidth: 1.2}),
    Plot.line(pevRuns, {x: "date", y: "v", z: "run", stroke: d => d.kind === "up" ? "#4b4a27" : "#5c3a32", strokeWidth: 3, clip: true}),
    Plot.text(fig12Notes, {x: d => yrDate(d[0]), y: d => d[1], text: d => d[2], textAnchor: "start", lineAnchor: "middle", lineHeight: 1.15, fontSize: 8, fill: "#4a4a4a"}),
    Plot.dot(fig12Forecast, {x: d => yrDate(d[0]), y: d => d[1], symbol: "triangle", r: 3.2, fill: "#d9bf8c"})
  ]
});
document.getElementById("c12").appendChild(c12);

// ---------------- TEXT FITTING (justified first lines) ----------------
const groups = {};
document.querySelectorAll(".fit").forEach(el => { (groups[el.dataset.g] ||= []).push(el); });
Object.values(groups).forEach(list => {
  const j = list.find(el => el.classList.contains("j"));
  const target = j.clientWidth;
  const span = document.createElement("span"); span.textContent = j.textContent; j.textContent = ""; j.appendChild(span);
  let w = span.getBoundingClientRect().width;
  let fs = parseFloat(getComputedStyle(j).fontSize);
  if (w > target) { fs = fs * target / w * 0.995; list.forEach(el => el.style.fontSize = fs + "px"); w = span.getBoundingClientRect().width; }
  const n = (span.textContent.match(/ /g) || []).length;
  j.style.wordSpacing = ((target - w) / n) + "px";
});
</script>
</body></html>
